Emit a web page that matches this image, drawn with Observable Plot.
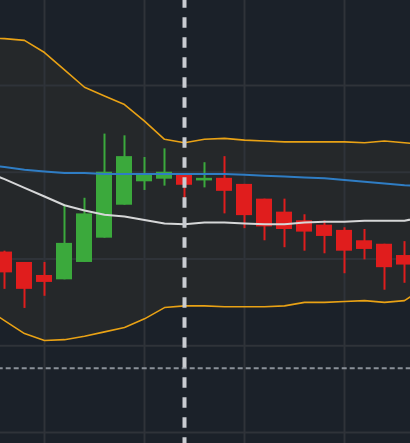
<!DOCTYPE html>
<html>
<head>
<meta charset="utf-8">
<script src="https://cdn.jsdelivr.net/npm/d3@7"></script>
<script src="https://cdn.jsdelivr.net/npm/@observablehq/plot@0.6"></script>
<style>
  html, body { margin: 0; padding: 0; background: #1b2129; }
  #chart svg { display: block; }
</style>
</head>
<body>
<div id="chart"></div>
<script>
// Candles (index 0..20)
const candleIndex = d3.range(0, 21);
const open  = [1020.8, 1019.6, 1018.1, 1017.6, 1019.6, 1022.4, 1026.2, 1028.9, 1029.2, 1029.7, 1029.0, 1029.3, 1028.6, 1026.9, 1025.4, 1024.4, 1023.9, 1023.3, 1022.1, 1021.7, 1020.4];
const high  = [1020.9, 1019.6, 1019.6, 1026.2, 1027.0, 1034.4, 1034.2, 1031.7, 1032.7, 1029.8, 1031.1, 1031.8, 1028.6, 1026.9, 1026.9, 1025.1, 1024.4, 1023.6, 1023.4, 1021.7, 1022.0];
const low   = [1016.5, 1014.3, 1015.7, 1017.6, 1019.6, 1022.4, 1026.2, 1027.9, 1028.4, 1027.0, 1028.2, 1025.2, 1023.5, 1022.1, 1021.3, 1020.9, 1020.6, 1018.3, 1019.9, 1016.4, 1017.2];
const close = [1018.4, 1016.5, 1017.3, 1021.8, 1025.2, 1030.0, 1031.8, 1029.8, 1030.0, 1028.5, 1029.3, 1027.8, 1025.0, 1023.7, 1023.4, 1023.1, 1022.6, 1020.9, 1021.1, 1019.0, 1019.3];

// Indicator lines (index -1..21)
const lineIndex = d3.range(-1, 22);
const upperBand = [1045.5, 1045.4, 1045.2, 1043.8, 1041.8, 1039.8, 1038.8, 1037.8, 1035.9, 1033.8, 1033.4, 1033.8, 1033.9, 1033.7, 1033.6, 1033.5, 1033.5, 1033.5, 1033.5, 1033.4, 1033.6, 1033.4, 1033.2];
const lowerBand = [1014.4, 1012.9, 1011.4, 1010.6, 1010.7, 1011.1, 1011.6, 1012.1, 1013.1, 1014.4, 1014.6, 1014.6, 1014.5, 1014.5, 1014.5, 1014.6, 1015.0, 1015.0, 1015.1, 1015.2, 1015.0, 1015.2, 1016.7];
const middleLine = [1030.1, 1029.2, 1028.2, 1027.2, 1026.2, 1025.6, 1025.1, 1024.9, 1024.5, 1024.1, 1024.0, 1024.2, 1024.2, 1024.1, 1024.0, 1024.0, 1024.2, 1024.3, 1024.3, 1024.4, 1024.4, 1024.4, 1024.9];
const blueLine = [1030.9, 1030.6, 1030.3, 1030.1, 1029.9, 1029.9, 1029.8, 1029.8, 1029.8, 1029.8, 1029.8, 1029.8, 1029.8, 1029.7, 1029.6, 1029.5, 1029.4, 1029.3, 1029.1, 1028.9, 1028.7, 1028.5, 1028.4];

const gridY = [1000, 1010, 1020, 1030, 1040, 1050];
const gridX = [2, 7, 12, 17];
const priceLine = 1007.4;
const markerIndex = 9;

const candles = candleIndex.map((i, k) => ({i, open: open[k], high: high[k], low: low[k], close: close[k]}));
const lines = lineIndex.map((i, k) => ({i, upper: upperBand[k], lower: lowerBand[k], mid: middleLine[k], blue: blueLine[k]}));

const green = "#3ba93c", red = "#e01d1d";
const col = d => d.close >= d.open ? green : red;

const chart = Plot.plot({
  width: 410,
  height: 443,
  margin: 0,
  style: {background: "#1b2129"},
  x: {domain: [-0.2, 20.3], axis: null},
  y: {domain: [998.73, 1049.8], axis: null},
  marks: [
    Plot.areaY(lines, {x: "i", y1: "lower", y2: "upper", fill: "#25282a", clip: true}),
    Plot.ruleY(gridY, {stroke: "#2f3339", strokeWidth: 2}),
    Plot.ruleX(gridX, {stroke: "#2f3339", strokeWidth: 2}),
    Plot.line(lines, {x: "i", y: "upper", stroke: "#e9a215", strokeWidth: 1.6, clip: true}),
    Plot.line(lines, {x: "i", y: "lower", stroke: "#e9a215", strokeWidth: 1.6, clip: true}),
    Plot.ruleX(candles, {x: "i", y1: "low", y2: "high", stroke: col, strokeWidth: 2, clip: true}),
    Plot.rect(candles, {x1: d => d.i - 0.4, x2: d => d.i + 0.4, y1: "open", y2: "close", fill: col, clip: true}),
    Plot.line(lines, {x: "i", y: "blue", stroke: "#2f7dc4", strokeWidth: 2, clip: true}),
    Plot.line(lines, {x: "i", y: "mid", stroke: "#d6d7d8", strokeWidth: 2, clip: true}),
    Plot.ruleY([priceLine], {stroke: "#8b9199", strokeWidth: 2, strokeDasharray: "5,3", strokeDashoffset: 2.3}),
    Plot.ruleX([markerIndex], {stroke: "#c9ccd1", strokeWidth: 4, strokeDasharray: "10.5,9.5", strokeDashoffset: 2.7})
  ]
});
document.getElementById("chart").appendChild(chart);
</script>
</body>
</html>
